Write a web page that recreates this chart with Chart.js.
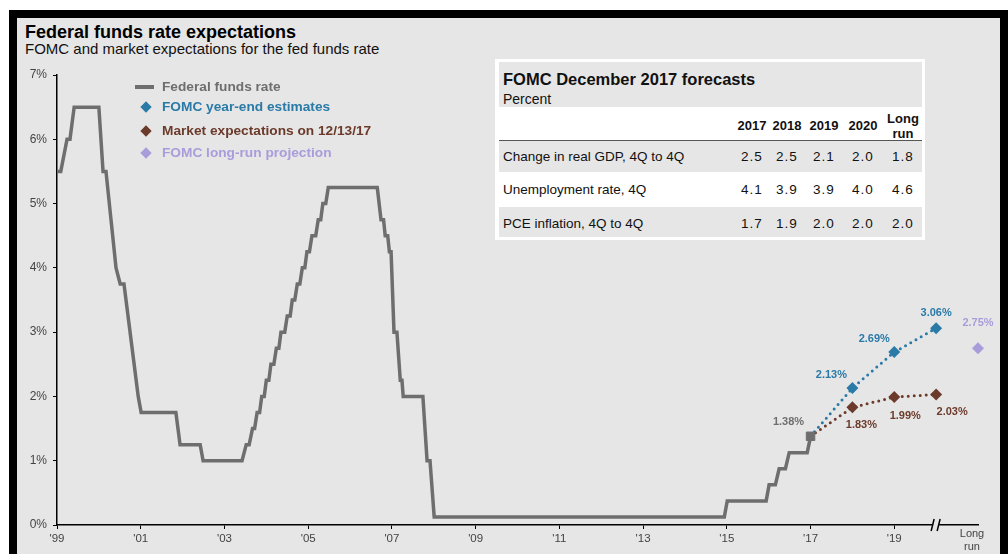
<!DOCTYPE html>
<html>
<head>
<meta charset="utf-8">
<script src="https://cdn.jsdelivr.net/npm/chart.js@4.4.1/dist/chart.umd.min.js"></script>
<style>
  body { margin: 0; background: #fff; font-family: "Liberation Sans", Arial, sans-serif; }
  #frame { position: absolute; left: 9px; top: 10px; width: 999px; height: 544px; background: #000; }
  #panel { position: absolute; left: 17px; top: 18px; width: 983px; height: 536px; background: #e6e6e6; }
  #chartCanvas { position: absolute; left: 0; top: 0; z-index: 1; }
  .abs { position: absolute; line-height: 1; white-space: nowrap; }
  #title { left: 25px; top: 23px; font-size: 18px; font-weight: bold; color: #000; }
  #subtitle { left: 25px; top: 41px; font-size: 15px; color: #111; }
  .legend { left: 162px; font-size: 13.7px; font-weight: bold; z-index: 2; }
  .swatchLine { position: absolute; left: 135px; width: 19px; height: 3.5px; background: #6e6e6e; z-index: 2; }
  .swatchDiamond { position: absolute; left: 142px; width: 8px; height: 8px; transform: rotate(45deg); z-index: 2; }
  #table { position: absolute; left: 495px; top: 59px; width: 430px; height: 181px; background: #fff; z-index: 2; }
  .band { position: absolute; left: 4px; width: 423px; background: #e6e6e6; }
  .cell { position: absolute; line-height: 1; white-space: nowrap; color: #111; }
</style>
</head>
<body>
<div id="frame"></div>
<div id="panel"></div>
<div class="abs" id="title">Federal funds rate expectations</div>
<div class="abs" id="subtitle">FOMC and market expectations for the fed funds rate</div>

<div class="swatchLine" style="top:85px"></div>
<div class="abs legend" style="top:80px;color:#6e6e6e">Federal funds rate</div>
<div class="swatchDiamond" style="top:103px;background:#2a7aa8"></div>
<div class="abs legend" style="top:100px;color:#2a7aa8">FOMC year-end estimates</div>
<div class="swatchDiamond" style="top:127px;background:#6b3a2a"></div>
<div class="abs legend" style="top:124px;color:#6b3a2a">Market expectations on 12/13/17</div>
<div class="swatchDiamond" style="top:149px;background:#a99cdb"></div>
<div class="abs legend" style="top:146px;color:#a99cdb">FOMC long-run projection</div>

<div id="table"></div>

<canvas id="chartCanvas" width="1008" height="554"></canvas>

<script>
// fed funds rate path (chart year, percent), corner points
const ffDates = [
  1999.00, 1999.09, 1999.24, 1999.31, 1999.41, 2000.00, 2000.10, 2000.17,
  2000.41, 2000.51, 2000.60, 2000.94, 2001.01, 2001.84, 2001.94, 2002.42,
  2002.49, 2003.42, 2003.52, 2003.59, 2003.67, 2003.72, 2003.78, 2003.84,
  2003.89, 2003.95, 2004.00, 2004.06, 2004.11, 2004.18, 2004.24, 2004.30,
  2004.35, 2004.44, 2004.50, 2004.57, 2004.62, 2004.68, 2004.74, 2004.80,
  2004.86, 2004.92, 2004.97, 2005.03, 2005.09, 2005.18, 2005.24, 2005.30,
  2005.35, 2005.42, 2005.48, 2006.65, 2006.74, 2006.80, 2006.84, 2006.90,
  2006.94, 2006.98, 2007.05, 2007.12, 2007.20, 2007.24, 2007.27, 2007.74,
  2007.84, 2007.91, 2008.01, 2014.94, 2015.01, 2015.94, 2016.01, 2016.16,
  2016.25, 2016.40, 2016.49, 2016.92, 2017.00
];
const ffRates = [
  5.5, 5.5, 6.0, 6.0, 6.5, 6.5, 5.5, 5.5,
  4.0, 3.75, 3.75, 2.0, 1.75, 1.75, 1.25, 1.25,
  1.0, 1.0, 1.25, 1.25, 1.5, 1.5, 1.75, 1.75,
  2.0, 2.0, 2.25, 2.25, 2.5, 2.5, 2.75, 2.75,
  3.0, 3.0, 3.25, 3.25, 3.5, 3.5, 3.75, 3.75,
  4.0, 4.0, 4.25, 4.25, 4.5, 4.5, 4.75, 4.75,
  5.0, 5.0, 5.25, 5.25, 4.75, 4.75, 4.5, 4.5,
  4.25, 4.25, 3.0, 3.0, 2.25, 2.25, 2.0, 2.0,
  1.0, 1.0, 0.125, 0.125, 0.375, 0.375, 0.625, 0.625,
  0.875, 0.875, 1.125, 1.125, 1.375
];

const forecastYears = [2017, 2018, 2019, 2020];
const fomcEstimates = [1.38, 2.13, 2.69, 3.06];
const marketExpectations = [1.38, 1.83, 1.99, 2.03];
const longRunYears = [2021];
const longRunProjection = [2.75];

const xTickValues = [1999, 2001, 2003, 2005, 2007, 2009, 2011, 2013, 2015, 2017, 2019, 2021];
const xTickLabels = ["'99", "'01", "'03", "'05", "'07", "'09", "'11", "'13", "'15", "'17", "'19", ["Long", "run"]];

// forecast table
const tableHeaders = ["2017", "2018", "2019", "2020", "Long run"];
const tableRowLabels = ["Change in real GDP, 4Q to 4Q", "Unemployment rate, 4Q", "PCE inflation, 4Q to 4Q"];
const gdpForecast = [2.5, 2.5, 2.1, 2.0, 1.8];
const unemploymentForecast = [4.1, 3.9, 3.9, 4.0, 4.6];
const pceForecast = [1.7, 1.9, 2.0, 2.0, 2.0];

// ---- table
const table = document.getElementById("table");
const colCenters = [257, 292, 329, 368, 408];
function addEl(cls, style, html) {
  const d = document.createElement("div");
  d.className = cls;
  d.style.cssText = style;
  d.innerHTML = html;
  table.appendChild(d);
  return d;
}
addEl("band", "top:3px;height:45px", "");
addEl("cell", "left:8px;top:12px;font-size:16.5px;font-weight:bold", "FOMC December 2017 forecasts");
addEl("cell", "left:8px;top:33px;font-size:14px", "Percent");
addEl("band", "top:81px;height:1.5px;background:#555", "");
addEl("band", "top:82px;height:31px", "");
addEl("band", "top:148px;height:30px", "");
tableHeaders.forEach((h, i) => {
  const parts = h.split(" ");
  if (parts.length === 1) {
    addEl("cell", "left:" + (colCenters[i] - 20) + "px;width:40px;text-align:center;top:60px;font-size:13px;font-weight:bold", h);
  } else {
    addEl("cell", "left:" + (colCenters[i] - 20) + "px;width:40px;text-align:center;top:52px;font-size:13px;font-weight:bold;line-height:15px", parts.join("<br>"));
  }
});
const tableRows = [gdpForecast, unemploymentForecast, pceForecast];
const rowTops = [91, 124, 158];
tableRows.forEach((row, r) => {
  addEl("cell", "left:8px;top:" + rowTops[r] + "px;font-size:13.5px", tableRowLabels[r]);
  row.forEach((v, i) => {
    addEl("cell", "left:" + (colCenters[i] - 20) + "px;width:40px;text-align:center;top:" + rowTops[r] + "px;font-size:13.5px;letter-spacing:1px", v.toFixed(1));
  });
});

// ---- chart
const blue = "#2a7aa8", brown = "#6b3a2a", purple = "#a99cdb", gray = "#6e6e6e";
const tickFont = "'Liberation Sans', Arial, sans-serif";

const labelOffsets = {
  current: [[-22, -14]],
  fomc: [null, [-21, -13], [-20, -13], [0, -15]],
  market: [null, [9, 18], [11, 19], [16, 17]],
  longRun: [[0, -25]]
};

const pointLabels = {
  id: "pointLabels",
  afterDatasetsDraw(chart) {
    const ctx = chart.ctx;
    ctx.save();
    ctx.font = "bold 11px " + tickFont;
    ctx.textAlign = "center";
    ctx.textBaseline = "middle";
    chart.data.datasets.forEach((ds, di) => {
      const offs = labelOffsets[ds.key];
      if (!offs) return;
      chart.getDatasetMeta(di).data.forEach((el, i) => {
        const o = offs[i];
        if (!o) return;
        ctx.fillStyle = ds.labelColor;
        ctx.fillText(ds.data[i].y.toFixed(2) + "%", el.x + o[0], el.y + o[1]);
      });
    });
    ctx.restore();
  }
};

// axis break marks plus the two-line "Long run" label, placed from the x scale
const axisExtras = {
  id: "axisExtras",
  afterDraw(chart) {
    const ctx = chart.ctx;
    const xs = chart.scales.x;
    const x = xs.getPixelForValue(2020);
    const y = chart.chartArea.bottom;
    ctx.save();
    ctx.fillStyle = "#e6e6e6";
    ctx.fillRect(x - 3, y - 2, 6, 4);
    ctx.strokeStyle = "#000";
    ctx.lineWidth = 1.5;
    ctx.beginPath();
    ctx.moveTo(x - 5, y + 6); ctx.lineTo(x - 2, y - 6);
    ctx.moveTo(x + 1, y + 6); ctx.lineTo(x + 4, y - 6);
    ctx.stroke();

    const lr = xTickLabels[xTickLabels.length - 1];
    const lx = xs.getPixelForValue(xTickValues[xTickValues.length - 1]) - 6;
    ctx.fillStyle = "#444";
    ctx.font = "11px " + tickFont;
    ctx.textAlign = "center";
    ctx.textBaseline = "middle";
    ctx.fillText(lr[0], lx, y + 9);
    ctx.fillText(lr[1], lx, y + 22);
    ctx.restore();
  }
};

const toXY = (xs, ys) => xs.map((x, i) => ({ x: x, y: ys[i] }));

new Chart(document.getElementById("chartCanvas"), {
  type: "line",
  data: {
    datasets: [
      {
        key: "current",
        labelColor: gray,
        data: [{ x: forecastYears[0], y: fomcEstimates[0] }],
        showLine: false,
        pointStyle: "rect",
        pointRadius: 6,
        backgroundColor: gray,
        borderColor: gray,
        clip: false
      },
      {
        key: "ff",
        data: toXY(ffDates, ffRates),
        borderColor: gray,
        borderWidth: 3.5,
        pointRadius: 0,
        tension: 0,
        borderJoinStyle: "miter"
      },
      {
        key: "fomc",
        labelColor: blue,
        data: toXY(forecastYears, fomcEstimates),
        borderColor: blue,
        backgroundColor: blue,
        borderWidth: 3,
        borderDash: [0, 6],
        borderCapStyle: "round",
        pointStyle: "rectRot",
        pointRadius: [0, 6, 6, 6],
        pointBorderWidth: 0,
        clip: false
      },
      {
        key: "market",
        labelColor: brown,
        data: toXY(forecastYears, marketExpectations),
        borderColor: brown,
        backgroundColor: brown,
        borderWidth: 3,
        borderDash: [0, 6],
        borderCapStyle: "round",
        pointStyle: "rectRot",
        pointRadius: [0, 6, 6, 6],
        pointBorderWidth: 0,
        clip: false
      },
      {
        key: "longRun",
        labelColor: purple,
        data: toXY(longRunYears, longRunProjection),
        showLine: false,
        backgroundColor: purple,
        borderColor: purple,
        pointStyle: "rectRot",
        pointRadius: 6,
        pointBorderWidth: 0,
        clip: false
      }
    ]
  },
  options: {
    responsive: false,
    animation: false,
    devicePixelRatio: 1,
    layout: { padding: { left: 0, top: 75, right: 30, bottom: 0 } },
    plugins: { legend: { display: false }, tooltip: { enabled: false } },
    scales: {
      x: {
        type: "linear",
        min: 1999,
        max: 2021,
        afterBuildTicks: (scale) => { scale.ticks = xTickValues.map(v => ({ value: v })); },
        afterFit: (scale) => { scale.height = 29; },
        ticks: {
          autoSkip: false,
          maxRotation: 0,
          padding: 3,
          color: "#444",
          font: { size: 11.5, family: tickFont },
          callback: (v, i) => Array.isArray(xTickLabels[i]) ? "" : xTickLabels[i]
        },
        grid: {
          drawOnChartArea: false,
          tickLength: 4,
          color: (c) => (c.tick && c.tick.value === 2021) ? "rgba(0,0,0,0)" : "#000"
        },
        border: { color: "#000", width: 1.5 }
      },
      y: {
        min: 0,
        max: 7,
        afterFit: (scale) => { scale.width = 57; },
        ticks: {
          stepSize: 1,
          padding: 6,
          color: "#444",
          font: { size: 12, family: tickFont },
          callback: (v) => v + "%"
        },
        grid: { drawOnChartArea: false, tickLength: 4, color: "#000" },
        border: { color: "#000", width: 1.5 }
      }
    }
  },
  plugins: [pointLabels, axisExtras]
});
</script>
</body>
</html>
